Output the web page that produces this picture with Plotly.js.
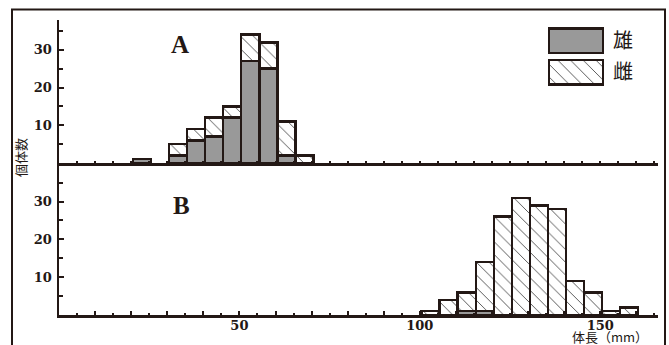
<!DOCTYPE html>
<html>
<head>
<meta charset="utf-8">
<script src="https://cdn.plot.ly/plotly-3.0.1.min.js"></script>
<style>html,body{margin:0;padding:0;background:#fff;}#chart{width:669px;height:345px;}</style>
</head>
<body>
<div id="chart"></div>
<script>
// ---- data ----
var binCentersA = [23, 33, 38, 43, 48, 53, 58, 63, 68];
var maleA       = [1, 2, 6, 7, 12, 27, 25, 2, null];
var femaleA     = [null, 3, 3, 5, 3, 7, 7, 9, 2];

var binCentersB = [103, 108, 113, 118, 123, 128, 133, 138, 143, 148, 153, 158];
var maleB       = [null, null, 1, 1, null, null, null, null, null, null, null, null];
var femaleB     = [1, 4, 5, 13, 26, 31, 29, 28, 9, 6, 1, 2];

var binWidth = 5;
var xMajorTicks = [10, 20, 30, 40, 50, 60, 70, 80, 90, 100, 110, 120, 130, 140, 150, 160];
var xTickText   = ['', '', '', '', '50', '', '', '', '', '100', '', '', '', '', '150', ''];
var yTicks = [10, 20, 30];
var yTickText = ['10', '20', '30'];
var legendNames = ['雄', '雌'];

// ---- style ----
var ink = '#231815';
var gray = '#999999';
var W = 669, H = 345;
var L = 59, R = 658, T = 20, B = 315, MID = 163;
function px(x) { return (x - L) / (R - L); }
function py(y) { return (B - y) / (B - T); }

var femalePattern = {shape: '\\', bgcolor: '#ffffff', fgcolor: '#4a4a4a', size: 9, solidity: 0.1};
function bw(n) { var a = []; for (var i = 0; i < n; i++) a.push(binWidth); return a; }

var traces = [
  {type: 'bar', x: binCentersA, y: maleA, width: bw(binCentersA.length), xaxis: 'x', yaxis: 'y',
   marker: {color: gray, line: {color: ink, width: 2.5}}, showlegend: false, hoverinfo: 'skip'},
  {type: 'bar', x: binCentersA, y: femaleA, width: bw(binCentersA.length), xaxis: 'x', yaxis: 'y',
   marker: {color: '#ffffff', pattern: femalePattern, line: {color: ink, width: 2.5}}, showlegend: false, hoverinfo: 'skip'},
  {type: 'bar', x: binCentersB, y: maleB, width: bw(binCentersB.length), xaxis: 'x2', yaxis: 'y2',
   marker: {color: gray, line: {color: ink, width: 2.5}}, showlegend: false, hoverinfo: 'skip'},
  {type: 'bar', x: binCentersB, y: femaleB, width: bw(binCentersB.length), xaxis: 'x2', yaxis: 'y2',
   marker: {color: '#ffffff', pattern: femalePattern, line: {color: ink, width: 2.5}}, showlegend: false, hoverinfo: 'skip'},
  // legend boxes
  {type: 'bar', orientation: 'h', x: [1], y: [legendNames[0]], width: [0.79], xaxis: 'x3', yaxis: 'y3',
   marker: {color: gray, line: {color: ink, width: 2.5}}, showlegend: false, hoverinfo: 'skip'},
  {type: 'bar', orientation: 'h', x: [1], y: [legendNames[1]], width: [0.79], xaxis: 'x3', yaxis: 'y3',
   marker: {color: '#ffffff', pattern: femalePattern, line: {color: ink, width: 2.5}}, showlegend: false, hoverinfo: 'skip'}
];

var tickFont = {family: 'DejaVu Serif, Liberation Serif, serif', size: 13, color: ink, weight: 'bold'};
function xAxis(labels, anchor) {
  return {
    domain: [0, 1], range: [0, 166], anchor: anchor,
    showline: true, linecolor: ink, linewidth: 2.5, showgrid: false, zeroline: false,
    ticks: 'inside', ticklen: 4, tickwidth: 2, tickcolor: ink,
    tickmode: 'array', tickvals: xMajorTicks, ticktext: labels ? xTickText : xMajorTicks.map(function(){return '';}),
    showticklabels: labels,
    minor: {dtick: 5, tick0: 0, ticks: 'inside', ticklen: 2, tickwidth: 2, tickcolor: ink, showgrid: false},
    tickfont: tickFont, ticklabelstandoff: -3, fixedrange: true
  };
}
function yAxis(domain, range, anchor) {
  return {
    domain: domain, range: range, anchor: anchor,
    showline: true, linecolor: ink, linewidth: 2.5, showgrid: false, zeroline: false,
    ticks: 'inside', ticklen: 5, tickwidth: 2, tickcolor: ink,
    tickmode: 'array', tickvals: yTicks, ticktext: yTickText,
    minor: {dtick: 5, tick0: 0, ticks: 'inside', ticklen: 4, tickwidth: 2, tickcolor: ink, showgrid: false},
    tickfont: tickFont, ticklabelstandoff: 2, fixedrange: true
  };
}

var cjk = 'Noto Sans CJK JP, Noto Sans CJK SC, sans-serif';
var layout = {
  width: W, height: H,
  margin: {l: L, r: W - R, t: T, b: H - B, pad: 0},
  paper_bgcolor: '#ffffff', plot_bgcolor: 'rgba(0,0,0,0)',
  barmode: 'stack',
  showlegend: false,
  xaxis: xAxis(false, 'y'),
  yaxis: yAxis([py(MID), 1], [0, 37.9], 'x'),
  xaxis2: xAxis(true, 'y2'),
  yaxis2: yAxis([0, py(MID)], [0, 40.2], 'x2'),
  xaxis3: {domain: [px(548), px(604)], range: [-0.02, 1.02], anchor: 'y3', visible: false, fixedrange: true},
  yaxis3: {domain: [py(88), py(25)], anchor: 'x3', type: 'category', categoryorder: 'array',
           categoryarray: [legendNames[1], legendNames[0]], range: [-0.5, 1.5],
           side: 'right', showline: false, showgrid: false, zeroline: false, ticks: '',
           tickfont: {family: cjk, size: 20, color: ink}, ticklabelstandoff: 8, fixedrange: true},
  annotations: [
    {text: 'A', xref: 'paper', yref: 'paper', x: px(180), y: py(44), showarrow: false,
     font: {family: 'Liberation Serif, serif', size: 25, color: ink, weight: 'bold'}, xanchor: 'center', yanchor: 'middle'},
    {text: 'B', xref: 'paper', yref: 'paper', x: px(181), y: py(205), showarrow: false,
     font: {family: 'Liberation Serif, serif', size: 25, color: ink, weight: 'bold'}, xanchor: 'center', yanchor: 'middle'},
    {text: '個体数', xref: 'paper', yref: 'paper', x: px(20), y: py(158), showarrow: false, textangle: -90,
     font: {family: cjk, size: 13, color: ink}, xanchor: 'center', yanchor: 'middle'},
    {text: '体長（mm）', xref: 'paper', yref: 'paper', x: px(610), y: py(336.5), showarrow: false,
     font: {family: cjk, size: 13, color: ink}, xanchor: 'center', yanchor: 'middle'}
  ],
  shapes: [
    {type: 'path', xref: 'paper', yref: 'paper',
     path: 'M ' + px(12) + ' ' + py(360) + ' L ' + px(12) + ' ' + py(9.5) + ' L ' + px(665) + ' ' + py(9.5) + ' L ' + px(665) + ' ' + py(360),
     line: {color: ink, width: 2}, fillcolor: 'rgba(0,0,0,0)', layer: 'above'}
  ]
};

Plotly.newPlot('chart', traces, layout, {staticPlot: true, displayModeBar: false});
</script>
</body>
</html>
